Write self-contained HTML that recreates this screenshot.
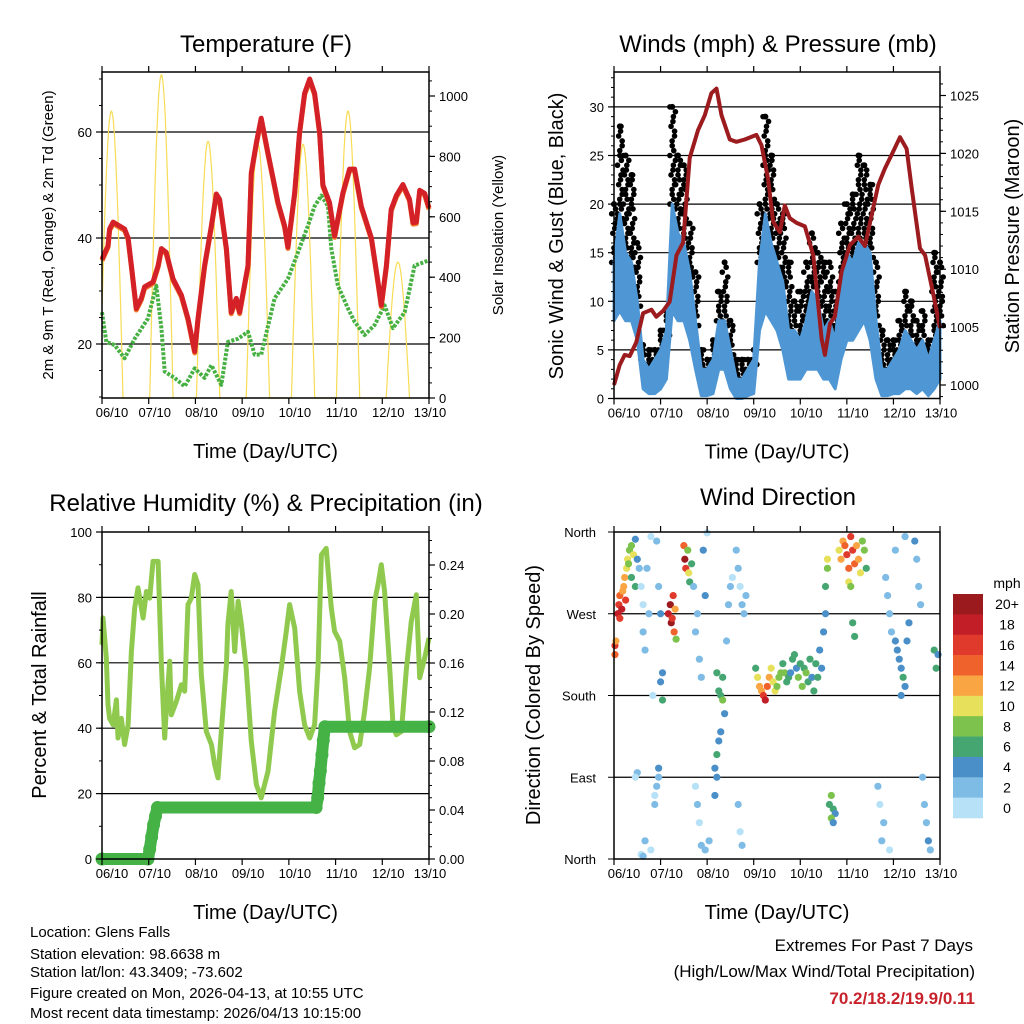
<!DOCTYPE html>
<html><head><meta charset="utf-8"><style>
body{margin:0;background:#fff;}
svg{display:block;font-family:"Liberation Sans",sans-serif;}
</style></head><body>
<svg id="root" width="1024" height="1024" viewBox="0 0 1024 1024">
<g id="g1"></g>
<g id="g2"></g>
<g id="g3"></g>
<g id="g4"></g>
<g id="g5">
<text x="30" y="937" font-size="15">Location: Glens Falls</text>
<text x="30" y="959" font-size="15">Station elevation: 98.6638 m</text>
<text x="30" y="977" font-size="15">Station lat/lon: 43.3409; -73.602</text>
<text x="30" y="998" font-size="15">Figure created on Mon, 2026-04-13, at 10:55 UTC</text>
<text x="30" y="1018" font-size="15">Most recent data timestamp: 2026/04/13 10:15:00</text>
<text x="973" y="951" font-size="17" text-anchor="end">Extremes For Past 7 Days</text>
<text x="975" y="977" font-size="17" text-anchor="end">(High/Low/Max Wind/Total Precipitation)</text>
<text x="975" y="1004" font-size="17" font-weight="bold" fill="#c8232c" text-anchor="end">70.2/18.2/19.9/0.11</text>
</g>
</svg>
<script>
// ---------- DATA ----------
const dayLabels=["06/10","07/10","08/10","09/10","10/10","11/10","12/10","13/10"];
const tempHours=[0,3.1,3.9,5.7,11.6,13.4,15.1,17.6,20.2,21.9,26.2,28.8,30.5,33,36.5,40.8,44.2,47.6,49.3,52.7,56.2,58.7,60.4,63.9,66.4,69,70.7,75,76.7,79.3,81.8,85.3,90.4,93.8,95.5,99,101.5,104.1,106.7,109.2,111.8,113.5,116.9,119.5,123.8,127.2,129.8,133.2,138.4,141.8,143.5,146.1,148.6,151.2,154.6,158,159.8,161.5,163.2,165.8,168];
const tempValues=[36,38.5,41.7,43,41.7,40,34.8,26.7,28.6,30.8,31.7,34.8,38,37.3,32.3,29.2,24.8,18.6,24.8,34.8,42.3,48.3,47.3,38,26,28.6,26,34.8,52.3,58,62.6,56,46.7,42.3,38.3,48.6,60,67.3,70,67.3,60,50,46.7,40.4,48.6,53,53,46,40,31.7,27.3,34.8,45.4,48,50.1,47.3,42.9,43,49,48.4,45.7];
const dewHours=[0,2.2,6.5,11.6,16.8,23.6,27.9,30.5,32.2,37.3,42.5,47.6,52.7,56.2,61.3,64.7,69.9,75,78.4,81.8,88.7,95.5,100.7,105.8,109.2,112.7,116.1,117.8,121.2,126.4,129.8,134.9,140.1,145.2,149.5,155.5,160.6,168];
const dewValues=[26,20.4,19.8,17.3,21,24.8,31,23,14.8,13.6,12,15.4,13.6,16,12.3,20.4,21,22.3,18,18,28.6,32.3,37.3,42.3,46,48,46,38,31,26.7,24.2,21.7,23.6,27.3,23,26,34.8,35.8];
const solarPeakHours=[4.8,30.5,54.5,80.1,103.3,126.4,152];
const solarPeakValues=[950,1070,850,840,840,950,450];
const windHi=[14,19,15,14,10,4,3,4,5,7,20,17,16,13,8,3,3,4,8,8,5,2,2,3,4,14,19,16,14,12,7,7,6,8,11,10,7,8,6,12,15,14,16,16,15,8,3,3,4,5,7,6,5,6,4,6,8];
const windLo=[8,9,8,8,6,1,0.5,0.5,1,2,9,8,8,6,3,0.3,0.3,0.5,3,3,1,0,0,0.3,0.5,7,9,8,7,5,2,2,2,3,3,3,2,2,1,4,6,6,7,8,6,2,0.3,0.3,0.5,0.5,1,1,0.5,1,0.3,1,2];
const gustMax=[20,28,25,23,16,5.5,5,5,7,9,30,25,24,18,13,5,4,6,11,14,8,4,4,4,5,20,29,25,20,19,14,10,11,14,17,15,14,14,11,18,20,21,25,24,22,14,7,6,6,8,11,10,8,9,6,15,14];
const pressHours=[0,2.9,5.5,8.1,11.5,15,19.3,21.8,25.3,28.7,32.2,35.6,39,43.3,46.8,50.2,52.8,55.4,59.7,63.1,67.4,73.4,76,79.4,82,85.5,88,90.6,94.1,98.4,102.7,107,108.7,111.3,113.8,117.3,121.6,125.9,129.3,132.8,136.2,139.6,143.1,147.4,150.8,153.4,157.7,160.3,164.6,168];
const pressValues=[1000,1001.7,1002.6,1002.5,1003.7,1006.2,1006.5,1005.9,1006.4,1007.2,1011.2,1012.3,1019.6,1022,1023.3,1025.2,1025.6,1023.3,1021.2,1021,1021.2,1021.6,1020.7,1017.8,1014.1,1013.2,1015.5,1014.4,1014,1013.7,1011.2,1004,1002.6,1005.3,1005.9,1009.8,1012.1,1012.8,1012,1014.7,1017.3,1018.7,1019.9,1021.4,1020.4,1017,1011.8,1011.2,1007.8,1004.9];
const rhHours=[0,.5,2.2,3.1,3.9,5.7,7.4,8.2,9.9,11.6,13.4,15.1,16.8,18.5,21.1,22.8,24.5,26.2,28.8,30.5,32.2,33,34.8,35.6,38.2,40.8,42.5,44.2,45.9,47.6,49.3,51,53.6,56.2,57.9,59.6,61.3,63.9,64.7,66.4,68.2,69.9,71.6,74.1,76.7,79.3,81.8,85.3,88.7,92.1,94.7,96.4,99,101.5,104.1,106.7,109.2,111,112.7,115.2,117.8,119.5,122.1,124.7,127.2,129.8,132.4,134.9,137.5,140.1,141.8,143.5,145.2,147.8,149.5,151.2,153.8,156.3,158.9,161.5,163.2,165.8,168];
const rhValues=[65.5,73.7,61.5,47.2,43,41,48.7,37,43,35,41,63.5,76.8,82.9,73.7,81.8,79.8,91,91,59.4,37,45.2,60.5,44.1,48.2,53.3,51.3,77.8,79.8,87,83.9,56.4,39,35,28.8,24.8,39,59.4,71.7,81.8,63.5,78.8,71.7,58.4,36,22.7,18.7,26.8,45.2,58.4,69.6,77.8,70.6,51.3,41,37,41,59.4,93,95,76.8,69.6,66.6,55.4,39,34,35,45.2,58.4,78.8,83.9,90,81.8,58.4,41,38,39,57.4,72.7,80.8,55.4,61.5,67.6];
const precipHours=[0,23.6,24.5,25.5,26.5,27.5,28.5,110,110.8,111.5,112.2,113,113.7,114.5,168];
const precipValues=[0,0,0.008,0.018,0.028,0.035,0.042,0.042,0.05,0.062,0.072,0.085,0.097,0.108,0.108];
const dirHours=[0.5,0.5,1,2,2.5,3,3,4,4.5,5,5.5,6,6.5,7,7.5,8,9,9,10,11,11,12,13,14,15,15,16,17,18,19,20,21,19,14,15,16,21,22,23,23,24,24,25,25,22,23,12,11,28,29,29.5,30,30.5,31,31.5,32,36,36.5,37,38,38.5,39,40,41,42,43,44,45,46,47,48,42,43,44,45,47,49,53,54,55,56,57,55,54,53,52,53,52,56,58,59,60,61,63,64,65,66,67,68,65,66,64,73,74,75,76,77,78,79,80,81,82,83,84,85,86,87,88,89,90,91,92,93,94,95,96,97,98,99,100,101,102,103,104,105,106,107,108,109,110,110,109,111,112,113,114,112,113,116,117,118,119,120,121,122,123,124,125,126,127,128,129,130,121,122,123,124,140,141,142,143,145,146,147,148,149,150,151,152,148,145,150,155,156,157,158,159,160,161,162,163,165,166,167,136,137,138,142,139];
const dirValues=[225,235,240,270,280,265,290,275,295,300,310,285,320,330,325,340,345,310,335,300,352,330,320,300,280,250,230,320,270,355,180,70,10,5,3,20,60,80,90,100,270,195,205,175,350,300,95,90,270,280,260,265,290,250,275,242,345,330,320,340,315,305,325,300,250,270,220,200,340,290,359,80,60,40,15,10,20,205,185,180,175,160,140,130,115,100,90,70,200,240,280,300,310,340,320,300,280,270,290,30,15,60,210,200,190,185,180,175,190,200,210,195,185,190,200,205,215,205,195,200,205,220,225,210,200,215,190,210,205,195,220,200,185,215,200,230,210,250,300,330,320,270,60,70,55,50,45,40,340,330,350,345,335,320,355,340,325,345,330,315,350,340,320,305,300,260,245,310,290,270,250,240,230,220,210,200,190,240,260,180,340,355,350,330,300,280,90,60,40,20,10,230,210,225,80,60,20,10,40];
const dirSpeeds=[14,16,12,18,17,16,14,19,13,12,12,16,11,10,9,9,8,7,10,6,5,4,2,1,1,2,2,3,3,1,1,1,1,1,2,3,2,3,2,4,4,4,4,6,2,3,2,1,18,20,22,17,16,14,12,8,14,20,16,8,10,7,6,3,2,2,3,2,4,4,1,1,2,1,2,3,2,6,7,6,8,5,4,5,6,4,5,4,6,2,2,2,1,2,2,1,2,3,3,1,2,2,7,10,12,13,17,18,14,12,11,10,10,9,8,9,7,8,6,7,5,7,6,5,8,6,9,7,8,7,6,5,6,7,6,4,5,5,7,10,9,5,6,8,7,5,9,4,11,13,12,14,16,15,16,17,14,13,12,10,9,8,6,10,9,7,6,3,3,2,3,4,5,4,5,6,4,5,5,4,3,3,4,3,3,2,2,3,2,4,3,6,7,5,2,1,2,1,3];
const speedLabels=["0","2","4","6","8","10","12","14","16","18","20+"];
const speedColors=["#b7e1f6","#7ebbe5","#4a8fc7","#46a672","#7cc24c","#e6e05a","#f9a544","#f0622b","#df3a2b","#c21e27","#9a1a1e"];

// ---------- helpers ----------
const NS="http://www.w3.org/2000/svg";
function mk(parent,tag,attrs,txt){const e=document.createElementNS(NS,tag);for(const k in attrs)e.setAttribute(k,attrs[k]);if(txt!==undefined)e.textContent=txt;parent.appendChild(e);return e;}
function pts(hs,vs,fx,fy){return hs.map((h,i)=>fx(h).toFixed(1)+","+fy(vs[i]).toFixed(1)).join(" ");}
function frame(g,L,T,R,B){
  const r=mk(g,"rect",{x:L,y:T,width:R-L,height:B-T,fill:"none",stroke:"#000","stroke-width":1.5});
  
  
}
function xAxis(g,L,R,T,B){
  for(let d=0;d<8;d++){
    const x=L+d*(R-L)/7;
    mk(g,"line",{x1:x,y1:B,x2:x,y2:B+6,stroke:"#000","stroke-width":1.2});
    mk(g,"line",{x1:x,y1:T,x2:x,y2:T-6,stroke:"#000","stroke-width":1.2});
    let lx=x; if(d==0)lx=x+10; else if(d==7)lx=x+1; else lx=x+6;
    const t=mk(g,"text",{x:lx,y:B+19,"font-size":13,"text-anchor":"middle"},dayLabels[d]);
    
    
  }
  const xt=mk(g,"text",{x:(L+R)/2,y:B+60,"font-size":20,"text-anchor":"middle"},"Time (Day/UTC)");
  
  
}
function yTicks(g,vals,fy,x,side,fmt,minorStep,lo,hi){
  const dir=side=="L"?-1:1;
  if(minorStep){for(let v=lo;v<=hi+1e-9;v+=minorStep){const y=fy(v);mk(g,"line",{x1:x,y1:y,x2:x+dir*3,y2:y,stroke:"#000","stroke-width":1});}}
  vals.forEach(v=>{const y=fy(v);mk(g,"line",{x1:x,y1:y,x2:x+dir*6,y2:y,stroke:"#000","stroke-width":1.2});
    const t=mk(g,"text",{x:x+dir*10,y:y+5,"font-size":13,"text-anchor":side=="L"?"end":"start"},fmt(v));
    
    });
}
function rotTitle(g,x,y,s,fs,name){const t=mk(g,"text",{x:x,y:y,"font-size":fs,"text-anchor":"middle",transform:`rotate(-90 ${x} ${y})`},s);
  
  }
function title(g,x,y,s,name){const t=mk(g,"text",{x:x,y:y,"font-size":24,"text-anchor":"middle"},s);
  
  }
function grid(g,vals,fy,L,R){vals.forEach(v=>{const l=mk(g,"line",{x1:L,y1:fy(v),x2:R,y2:fy(v),stroke:"#000","stroke-width":1.2});
  
  });}

// ---------- Panel 1: Temperature ----------
(function(){
  const g=document.getElementById("g1");
  const L=102,R=429,T=72,B=398;
  const xT=h=>L+h*(R-L)/168, yT=v=>344-(v-20)*5.3, yS=v=>398-v*0.302;
  title(g,266,52,"Temperature (F)","temperature-title");
  grid(g,[20,40,60],yT,L,R);
  let sp=[];
  solarPeakHours.forEach((ph,i)=>{
    for(let k=-6;k<=6;k+=0.25){const h=ph+k;if(h<0||h>168)continue;
      const v=Math.max(0,solarPeakValues[i]*Math.cos(k/6*Math.PI/2));
      sp.push(xT(h).toFixed(1)+","+Math.max(T,yS(v)).toFixed(1));}
  });
  const sl=mk(g,"polyline",{points:sp.join(" "),fill:"none",stroke:"#f7dc55","stroke-width":1.2});
  
  
  const dl=mk(g,"polyline",{points:pts(dewHours,dewValues,xT,yT),fill:"none",stroke:"#47b043","stroke-width":4,"stroke-dasharray":"3 1.5","stroke-linejoin":"round"});
  
  
  const ol=mk(g,"polyline",{points:pts(tempHours,tempValues,xT,v=>yT(v)+1.5),fill:"none",stroke:"#f07a2a","stroke-width":5,"stroke-linejoin":"round"});
  
  
  const tl=mk(g,"polyline",{points:pts(tempHours,tempValues,xT,yT),fill:"none",stroke:"#d42027","stroke-width":5,"stroke-linejoin":"round"});
  
  
  frame(g,L,T,R,B);
  xAxis(g,L,R,T,B);
  yTicks(g,[20,40,60],yT,L,"L",v=>v,5,10,70);
  yTicks(g,[0,200,400,600,800,1000],yS,R,"R",v=>v,50,0,1050);
  rotTitle(g,53,235,"2m & 9m T (Red, Orange) & 2m Td (Green)",15,"left-y-axis-title");
  rotTitle(g,503,235,"Solar Insolation (Yellow)",15,"right-y-axis-title");
})();

// ---------- Panel 2: Winds ----------
(function(){
  const g=document.getElementById("g2");
  const L=614,R=940,T=72,B=398.5;
  const xW=h=>L+h*(R-L)/168, yW=v=>398.5-v*9.72, yP=m=>385-(m-1000)*11.58;
  const hrs=windHi.map((_,i)=>i*3);
  grid(g,[5,10,15,20,25,30],yW,L,R);
  hrs.forEach((h,i)=>{
    let n=0;
    for(let v=windHi[i];v<=gustMax[i];v+=1.0){
      const k=((n*7)%5-2)*0.6; n++;
      const c=mk(g,"circle",{cx:xW(h+k),cy:yW(v),r:2.8,fill:"#000"});
      
      
      const c2=mk(g,"circle",{cx:xW(h-k*0.7+0.8),cy:yW(v-0.5),r:2.8,fill:"#000"});
      
      
    }
    const c=mk(g,"circle",{cx:xW(h),cy:yW(gustMax[i]),r:3,fill:"#000"});
    
    
  });
  const poly=pts(hrs,windHi,xW,yW)+" "+pts(hrs.slice().reverse(),windLo.slice().reverse(),xW,yW);
  const wb=mk(g,"polygon",{points:poly,fill:"#4f97d4",stroke:"#4f97d4","stroke-width":3,"stroke-linejoin":"round"});
  
  
  const pl=mk(g,"polyline",{points:pts(pressHours,pressValues,xW,yP),fill:"none",stroke:"#9b1b1e","stroke-width":4,"stroke-linejoin":"round"});
  
  
  title(g,778,52,"Winds (mph) & Pressure (mb)","winds-title");
  frame(g,L,T,R,B);
  xAxis(g,L,R,T,B);
  yTicks(g,[0,5,10,15,20,25,30],yW,L,"L",v=>v,1,0,33);
  yTicks(g,[1000,1005,1010,1015,1020,1025],yP,R,"R",v=>v,1,999,1026);
  rotTitle(g,563,236,"Sonic Wind & Gust (Blue, Black)",20,"left-y-axis-title");
  rotTitle(g,1019,236,"Station Pressure (Maroon)",20,"right-y-axis-title");
})();

// ---------- Panel 3: RH & precip ----------
(function(){
  const g=document.getElementById("g3");
  const L=102,R=429,T=532,B=859;
  const xR=h=>L+h*(R-L)/168, yR=v=>B-v*3.27, yPr=v=>B-v*1225;
  title(g,266,511,"Relative Humidity (%) & Precipitation (in)","humidity-title");
  grid(g,[20,40,60,80],yR,L,R);
  const rl=mk(g,"polyline",{points:pts(rhHours,rhValues,xR,yR),fill:"none",stroke:"#8fca4f","stroke-width":5,"stroke-linejoin":"round"});
  
  
  const pr=mk(g,"polyline",{points:pts(precipHours,precipValues,xR,yPr),fill:"none",stroke:"#45b246","stroke-width":12,"stroke-linecap":"round","stroke-linejoin":"round"});
  
  
  precipHours.forEach((h,i)=>{const c=mk(g,"circle",{cx:xR(h),cy:yPr(precipValues[i]),r:6.5,fill:"#45b246"});
    
    });
  frame(g,L,T,R,B);
  xAxis(g,L,R,T,B);
  yTicks(g,[0,20,40,60,80,100],yR,L,"L",v=>v,10,0,100);
  yTicks(g,[0,0.04,0.08,0.12,0.16,0.20,0.24],yPr,R,"R",v=>v.toFixed(2),0.01,0,0.26);
  rotTitle(g,46,695,"Percent & Total Rainfall",20,"left-y-axis-title");
})();

// ---------- Panel 4: Wind direction ----------
(function(){
  const g=document.getElementById("g4");
  const L=614,R=940,T=532,B=859;
  const xD=h=>L+h*(R-L)/168, yD=d=>B-d*(B-T)/360;
  title(g,778,505,"Wind Direction","wind-direction-title");
  grid(g,[90,180,270],yD,L,R);
  dirHours.forEach((h,i)=>{
    const idx=Math.min(10,Math.floor(dirSpeeds[i]/2));
    const c=mk(g,"circle",{cx:xD(h),cy:yD(dirValues[i]),r:3.6,fill:speedColors[idx]});
    
    
  });
  frame(g,L,T,R,B);
  xAxis(g,L,R,T,B);
  const names=["North","East","South","West","North"];
  [0,90,180,270,360].forEach((d,i)=>{const y=yD(d);mk(g,"line",{x1:L,y1:y,x2:L-6,y2:y,stroke:"#000"});
    const t=mk(g,"text",{x:L-18,y:y+5,"font-size":13,"text-anchor":"end"},names[i]);
    
    });
  rotTitle(g,540,695,"Direction (Colored By Speed)",20,"left-y-axis-title");
  const cbT=594,cbB=818,h=(cbB-cbT)/11;
  const mt=mk(g,"text",{x:1007,y:588,"font-size":14,"text-anchor":"middle"},"mph");
  
  
  for(let k=0;k<11;k++){
    const idx=10-k, y=cbT+k*h;
    const r=mk(g,"rect",{x:953,y:y,width:30,height:h+0.3,fill:speedColors[idx]});
    
    
    const t=mk(g,"text",{x:1007,y:y+h/2+5,"font-size":14,"text-anchor":"middle"},speedLabels[idx]);
    
    
  }
})();
</script>
</body></html>
